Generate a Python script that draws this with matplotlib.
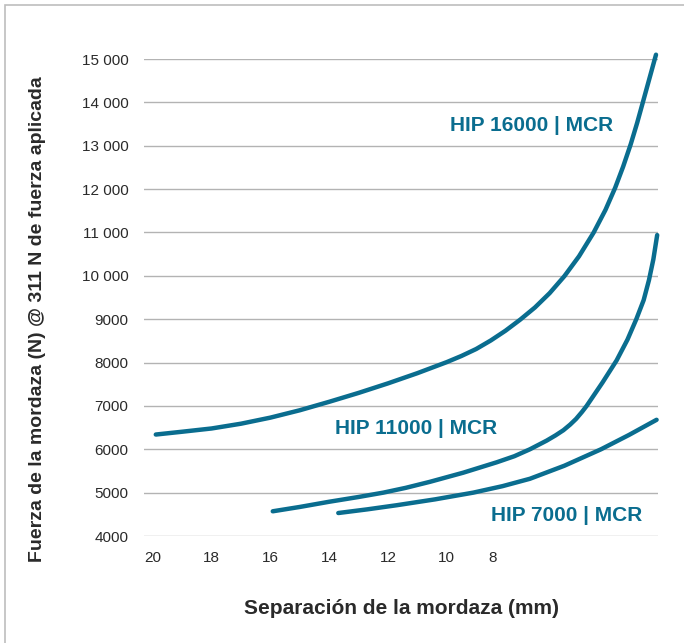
import matplotlib
matplotlib.use("Agg")
import matplotlib.pyplot as plt
from matplotlib.patches import Rectangle

# ---- data (jaw separation in mm, clamp force in N) ----
hip16000_x = [19.9, 19.0, 18.0, 17.0, 16.0, 15.0, 14.0, 13.0, 12.0, 11.0, 10.0, 9.5, 9.0, 8.5, 8.0,
              7.5, 7.0, 6.5, 6.0, 5.5, 5.0, 4.6, 4.27, 4.0, 3.74, 3.52, 3.33, 3.1, 2.88]
hip16000_y = [6340, 6405, 6480, 6590, 6730, 6900, 7095, 7300, 7520, 7755, 8010, 8152, 8312, 8510, 8735,
              8990, 9270, 9600, 9990, 10450, 11000, 11520, 12030, 12515, 13035, 13530, 13995, 14560, 15100]

hip11000_x = [15.92, 15.0, 14.0, 13.0, 12.16, 11.4, 10.57, 9.44, 8.3, 7.7, 7.17, 6.6, 6.3, 6.03, 5.8,
              5.6, 5.4, 5.24, 4.95, 4.7, 4.22, 3.85, 3.55, 3.3, 3.12, 2.97, 2.84]
hip11000_y = [4570, 4670, 4790, 4900, 5000, 5110, 5250, 5460, 5700, 5840, 6000, 6200, 6320, 6440, 6570,
              6700, 6860, 7000, 7290, 7540, 8050, 8530, 9000, 9440, 9900, 10380, 10940]

hip7000_x = [13.69, 12.7, 11.7, 10.4, 9.1, 8.1, 7.17, 6.0, 4.75, 3.8, 2.86]
hip7000_y = [4530, 4615, 4710, 4845, 5000, 5150, 5320, 5620, 6000, 6330, 6680]

series_labels = ["HIP 16000 | MCR", "HIP 11000 | MCR", "HIP 7000 | MCR"]

y_ticks = [4000, 5000, 6000, 7000, 8000, 9000, 10000, 11000, 12000, 13000, 14000, 15000]
y_tick_labels = ["4000", "5000", "6000", "7000", "8000", "9000", "10 000", "11 000",
                 "12 000", "13 000", "14 000", "15 000"]
x_ticks = [20, 18, 16, 14, 12, 10, 8.45]
x_tick_labels = ["20", "18", "16", "14", "12", "10", "8"]

x_title = "Separación de la mordaza (mm)"
y_title = "Fuerza de la mordaza (N) @ 311 N de fuerza aplicada"

# ---- style ----
plt.rcParams['font.family'] = ['Liberation Sans', 'DejaVu Sans']
LINE = '#0a6d8f'
GRID = '#b3b3b3'
TXT = '#2a2a2a'

fig = plt.figure(figsize=(6.84, 6.43), dpi=100)
fig.patch.set_facecolor('white')
ax = fig.add_axes([0.211, 0.1664, 0.7515, 0.7418])

for xs, ys in [(hip16000_x, hip16000_y), (hip11000_x, hip11000_y), (hip7000_x, hip7000_y)]:
    ax.plot(xs, ys, color=LINE, lw=3.2, solid_capstyle='round', solid_joinstyle='round',
            clip_on=False, zorder=3)

ax.set_xlim(20.29, 2.80)
ax.set_ylim(4000, 15000)
ax.set_yticks(y_ticks)
ax.set_yticklabels(y_tick_labels)
ax.set_xticks(x_ticks)
ax.set_xticklabels(x_tick_labels)
ax.tick_params(axis='y', length=0, pad=11.5, labelsize=11, labelcolor=TXT)
ax.tick_params(axis='x', length=0, pad=11, labelsize=11, labelcolor=TXT)
ax.yaxis.grid(True, color=GRID, lw=1.0)
ax.xaxis.grid(False)
ax.set_axisbelow(True)
for s in ax.spines.values():
    s.set_visible(False)

# series labels
label_pos = [(0.5947, 0.8616), (0.371, 0.2264), (0.674, 0.044)]
for lab, (px, py) in zip(series_labels, label_pos):
    ax.text(px, py, lab, transform=ax.transAxes, ha='left', va='center',
            fontsize=15, fontweight='bold', color=LINE)

fig.text(401 / 684, 1 - 608 / 643, x_title, ha='center', va='center',
         fontsize=15, fontweight='bold', color=TXT)
fig.text(38 / 684, 1 - 319 / 643, y_title, ha='center', va='center', rotation=90,
         fontsize=14, fontweight='bold', color=TXT)

# outer frame (only top and left edges fall inside the picture)
fig.patches.append(Rectangle((4.5 / 684, -0.2), 1.3, 1 - 4.5 / 643 + 0.2, fill=False,
                             edgecolor='#bdbdbd', lw=1.2, transform=fig.transFigure))

fig.savefig('out.png', dpi=100, facecolor='white')
